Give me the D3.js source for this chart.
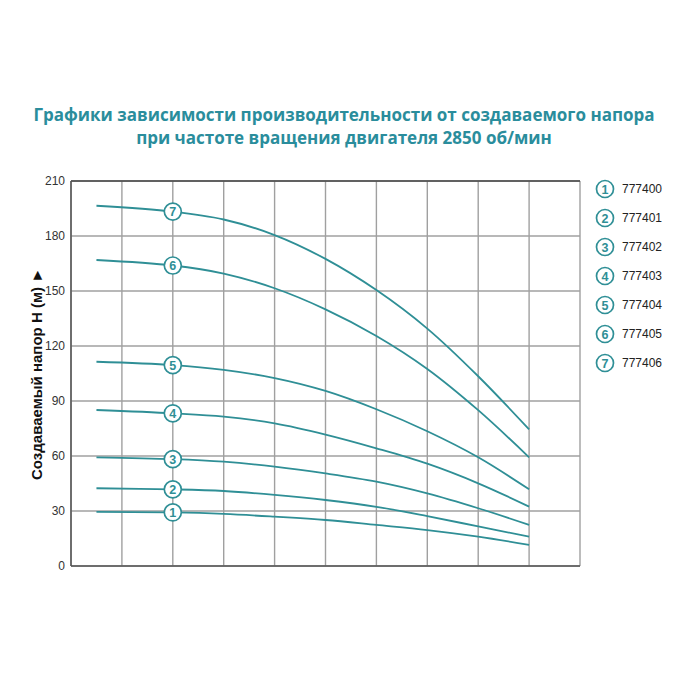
<!DOCTYPE html>
<html><head><meta charset="utf-8">
<script src="https://cdn.jsdelivr.net/npm/d3@7"></script>
<style>body{margin:0;background:#fff}svg{display:block}</style>
</head><body>
<svg id="c" width="700" height="700"></svg>
<script>
const titleLines = ["Графики зависимости производительности от создаваемого напора", "при частоте вращения двигателя 2850 об/мин"];
const yAxisTitle = "Создаваемый напор Н (м) ►";
const yTicks = [0, 30, 60, 90, 120, 150, 180, 210];
const xGrid = [0,1,2,3,4,5,6,7,8,9,10];
const xs = [0.5, 2, 3, 4, 5, 6, 7, 8, 9];
const curveIds = ["1","2","3","4","5","6","7"];
const models = ["777400","777401","777402","777403","777404","777405","777406"];
const c1 = [29.5, 29.2, 28.4, 26.9, 25.1, 22.4, 19.6, 16.0, 11.5];
const c2 = [42.4, 41.8, 40.9, 38.8, 36.0, 32.3, 27.2, 21.6, 16.0];
const c3 = [59.3, 58.3, 56.9, 54.2, 50.5, 46.0, 39.6, 31.5, 22.4];
const c4 = [85.1, 83.3, 81.5, 77.8, 71.7, 64.2, 55.8, 45.1, 32.4];
const c5 = [111.4, 109.6, 107.0, 102.5, 95.5, 85.5, 73.5, 59.3, 41.8];
const c6 = [166.9, 163.9, 159.5, 151.5, 140.0, 125.5, 107.5, 85.0, 59.3];
const c7 = [196.5, 193.3, 189.0, 180.5, 167.5, 150.5, 129.5, 103.5, 74.5];
const series = [c1, c2, c3, c4, c5, c6, c7];
const labelX = 2;

const teal = "#2f8f96";
const svg = d3.select("#c");
const L = 71, R = 580, T = 181, B = 566;
const x = d3.scaleLinear().domain([0, 10]).range([L, R]);
const y = d3.scaleLinear().domain([0, 210]).range([B, T]);

// title
svg.append("g").selectAll("text").data(titleLines).join("text")
  .attr("x", 344).attr("y", (d, i) => 121 + i * 23)
  .attr("text-anchor", "middle")
  .attr("font-family", "Open Sans, sans-serif").attr("font-weight", "bold")
  .attr("font-size", 17).attr("fill", "#2a8d9c").text(d => d);

// grid
const grid = svg.append("g");
grid.selectAll("line.h").data(yTicks).join("line").attr("class", "h")
  .attr("x1", L).attr("x2", R).attr("y1", d => y(d)).attr("y2", d => y(d))
  .attr("stroke", "#a0a0a0").attr("stroke-width", 1.4);
grid.selectAll("line.v").data(xGrid).join("line").attr("class", "v")
  .attr("y1", T).attr("y2", B).attr("x1", d => x(d)).attr("x2", d => x(d))
  .attr("stroke", "#a0a0a0").attr("stroke-width", 1.4);
// frame
svg.append("line").attr("x1", L).attr("x2", R).attr("y1", T).attr("y2", T).attr("stroke", "#444").attr("stroke-width", 1.5);
svg.append("line").attr("x1", L).attr("x2", R).attr("y1", B).attr("y2", B).attr("stroke", "#555").attr("stroke-width", 1.5);
svg.append("line").attr("x1", L).attr("x2", L).attr("y1", T).attr("y2", B).attr("stroke", "#555").attr("stroke-width", 1.5);

// y axis
const ya = svg.append("g").attr("transform", `translate(${L},0)`)
  .call(d3.axisLeft(y).tickValues(yTicks).tickSize(0).tickPadding(6));
ya.select(".domain").remove();
ya.selectAll("text").attr("font-family", "Arial, Liberation Sans, sans-serif").attr("font-size", 12).attr("fill", "#333");

svg.append("text").attr("transform", "translate(42,374) rotate(-90)")
  .attr("text-anchor", "middle").attr("font-family", "Arial, Liberation Sans, sans-serif")
  .attr("font-weight", "bold").attr("font-size", 15).attr("fill", "#111").text(yAxisTitle);

// curves
const line = d3.line().x(d => x(d[0])).y(d => y(d[1])).curve(d3.curveCatmullRom.alpha(0.5));
svg.append("g").selectAll("path").data(series).join("path")
  .attr("d", s => line(xs.map((v, i) => [v, s[i]])))
  .attr("fill", "none").attr("stroke", teal).attr("stroke-width", 1.8);

// markers
const li = xs.indexOf(labelX);
const mk = svg.append("g").selectAll("g").data(series).join("g")
  .attr("transform", s => `translate(${x(labelX)},${y(s[li])})`);
mk.append("circle").attr("r", 8.5).attr("fill", "#fff").attr("stroke", teal).attr("stroke-width", 1.7);
mk.append("text").attr("text-anchor", "middle").attr("dy", "0.36em")
  .attr("font-family", "Arial, Liberation Sans, sans-serif").attr("font-weight", "bold")
  .attr("font-size", 12.5).attr("fill", teal).text((s, i) => curveIds[i]);

// legend
const lg = svg.append("g").selectAll("g").data(models).join("g")
  .attr("transform", (d, i) => `translate(605,${189 + i * 29})`);
lg.append("circle").attr("r", 8.5).attr("fill", "#fff").attr("stroke", teal).attr("stroke-width", 1.7);
lg.append("text").attr("text-anchor", "middle").attr("dy", "0.36em")
  .attr("font-family", "Arial, Liberation Sans, sans-serif").attr("font-weight", "bold")
  .attr("font-size", 12.5).attr("fill", teal).text((d, i) => curveIds[i]);
lg.append("text").attr("x", 17).attr("dy", "0.36em")
  .attr("font-family", "Arial, Liberation Sans, sans-serif").attr("font-size", 12)
  .attr("fill", "#222").text(d => d);
</script>
</body></html>
